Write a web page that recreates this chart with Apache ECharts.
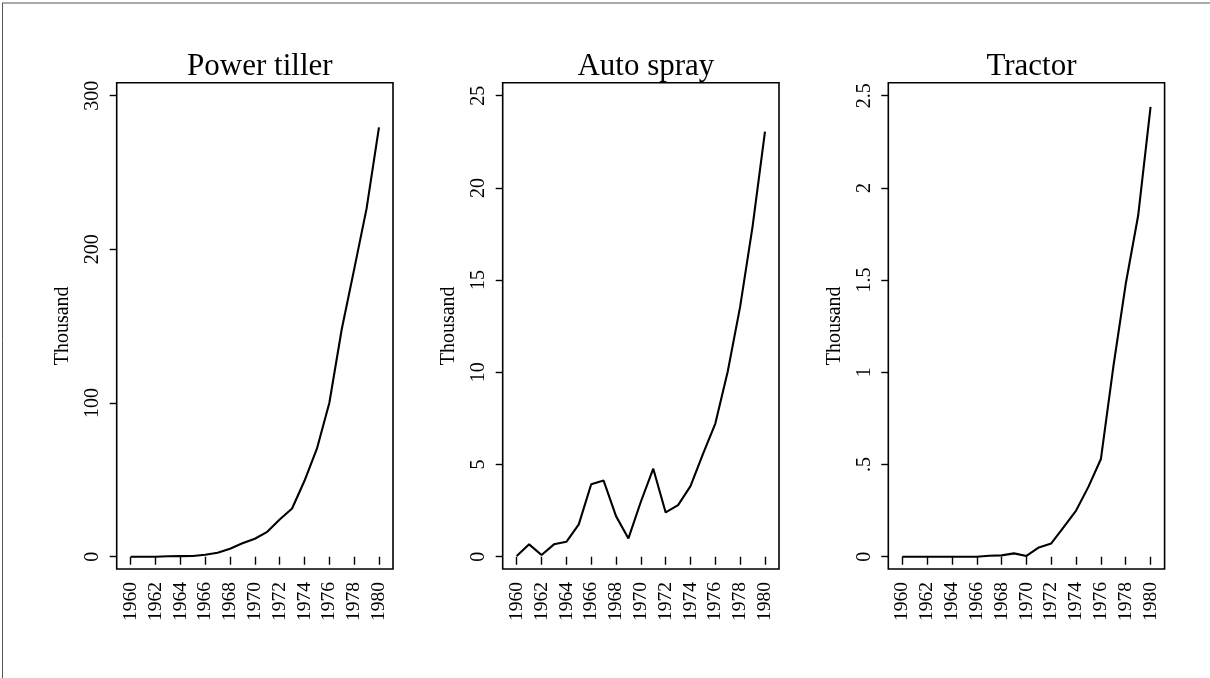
<!DOCTYPE html>
<html>
<head>
<meta charset="utf-8">
<script src="https://cdn.jsdelivr.net/npm/echarts@6/dist/echarts.min.js"></script>
<style>
  html, body { margin: 0; padding: 0; background: #fff; }
  #chart { width: 1210px; height: 678px; }
</style>
</head>
<body>
<div id="chart"></div>
<script>
// Farm machinery stock, 1960-1980 (thousand units)
const years = [1960, 1961, 1962, 1963, 1964, 1965, 1966, 1967, 1968, 1969, 1970,
               1971, 1972, 1973, 1974, 1975, 1976, 1977, 1978, 1979, 1980];
const powerTiller = [0, 0, 0, 0.3, 0.4, 0.5, 1.3, 2.6, 5.2, 8.7, 11.7,
                     16.2, 24.2, 31.4, 49.4, 70.3, 100, 148, 187, 226.5, 279.4];
const autoSpray = [0.04, 0.67, 0.09, 0.67, 0.81, 1.75, 3.93, 4.13, 2.2, 0.99, 2.98,
                   4.77, 2.4, 2.8, 3.83, 5.56, 7.22, 10.04, 13.56, 17.9, 23.05];
const tractor = [0, 0, 0, 0, 0, 0, 0, 0.005, 0.007, 0.018, 0.004,
                 0.05, 0.072, 0.16, 0.25, 0.38, 0.53, 1.03, 1.48, 1.85, 2.44];

const panelTitles = ['Power tiller', 'Auto spray', 'Tractor'];
const yearTicks = [1960, 1962, 1964, 1966, 1968, 1970, 1972, 1974, 1976, 1978, 1980];
const powerTillerTicks = [0, 100, 200, 300];
const autoSprayTicks = [0, 5, 10, 15, 20, 25];
const tractorTicks = [0, 0.5, 1, 1.5, 2, 2.5];
const tractorTickLabels = ['0', '.5', '1', '1.5', '2', '2.5'];
const yAxisName = 'Thousand';

const FONT = '"Liberation Serif", "DejaVu Serif", serif';

const panels = [
  { left: 116.7, values: powerTiller, ticks: powerTillerTicks, min: -8.0, max: 308.46,
    fmt: v => String(v) },
  { left: 502.7, values: autoSpray, ticks: autoSprayTicks, min: -0.667, max: 25.705,
    fmt: v => String(v) },
  { left: 888.3, values: tractor, ticks: tractorTicks, min: -0.0667, max: 2.5705,
    fmt: v => tractorTickLabels[tractorTicks.indexOf(v)] }
];

const plotTop = 82.7, plotHeight = 486.3, plotWidth = 276.3;

const grids = [], xAxes = [], yAxes = [], series = [], titles = [];
panels.forEach((p, i) => {
  grids.push({
    left: p.left, top: plotTop, width: plotWidth, height: plotHeight,
    show: true, borderColor: '#000', borderWidth: 1.6, backgroundColor: 'transparent',
    containLabel: false
  });
  xAxes.push({
    type: 'value', gridIndex: i, min: 1958.87, max: 1981.13,
    axisLine: { show: false },
    splitLine: { show: false },
    axisTick: { show: true, length: 8, customValues: yearTicks,
                lineStyle: { color: '#000', width: 1.4 } },
    axisLabel: { show: true, customValues: yearTicks, rotate: 90, margin: 13,
                 color: '#000', fontFamily: FONT, fontSize: 19.5,
                 formatter: v => String(v) }
  });
  yAxes.push({
    type: 'value', gridIndex: i, min: p.min, max: p.max,
    name: yAxisName, nameLocation: 'middle', nameRotate: 90, nameGap: 44,
    nameTextStyle: { color: '#000', fontFamily: FONT, fontSize: 20 },
    axisLine: { show: false },
    splitLine: { show: false },
    axisTick: { show: true, length: 7, customValues: p.ticks,
                lineStyle: { color: '#000', width: 1.4 } },
    axisLabel: { show: true, customValues: p.ticks, rotate: 90, margin: 14,
                 color: '#000', fontFamily: FONT, fontSize: 20,
                 formatter: p.fmt }
  });
  series.push({
    type: 'line', xAxisIndex: i, yAxisIndex: i,
    data: years.map((y, k) => [y, p.values[k]]),
    showSymbol: false, symbol: 'none',
    lineStyle: { color: '#000', width: 2.1 },
    silent: true
  });
  titles.push({
    text: panelTitles[i],
    left: p.left + plotWidth / 2, top: 46.5, textAlign: 'center',
    textStyle: { color: '#000', fontFamily: FONT, fontSize: 31, fontWeight: 'normal' }
  });
});

const chart = echarts.init(document.getElementById('chart'), null, { renderer: 'canvas' });
chart.setOption({
  animation: false,
  backgroundColor: '#fff',
  title: titles,
  grid: grids,
  xAxis: xAxes,
  yAxis: yAxes,
  series: series,
  graphic: [
    { type: 'line', shape: { x1: 2, y1: 3, x2: 1210, y2: 3 },
      style: { stroke: '#555', lineWidth: 1 }, silent: true },
    { type: 'line', shape: { x1: 2.5, y1: 3, x2: 2.5, y2: 678 },
      style: { stroke: '#555', lineWidth: 1 }, silent: true }
  ]
});
</script>
</body>
</html>
